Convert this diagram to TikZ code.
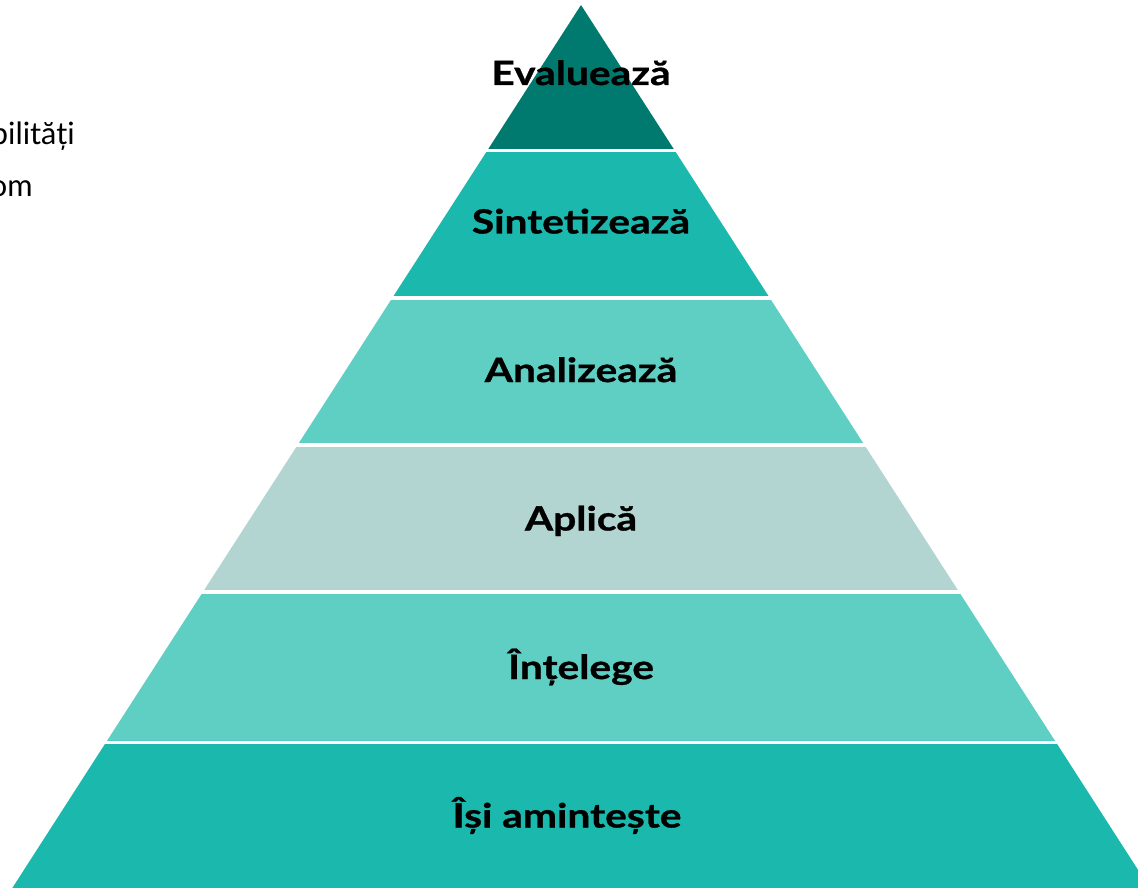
\documentclass[tikz,border=0pt]{standalone}
\usepackage{fontspec}
\setmainfont{Lato}
\newfontfamily\levelfont[FakeStretch=1.22, FakeBold=0.9]{Lato}
\definecolor{tealdark}{HTML}{007A6E}
\definecolor{tealmid}{HTML}{1AB8AD}
\definecolor{teallight}{HTML}{5FCEC3}
\definecolor{tealpale}{HTML}{B3D5D2}
\tikzset{
  level/.style={fill=#1, draw=none},
  gap/.style={draw=white, line width=0.07cm},
  label/.style={anchor=base, font=\levelfont\fontsize{19}{23}\selectfont\bfseries, text=black, inner sep=0pt},
  sidetext/.style={anchor=base east, font=\fontsize{17.5}{21}\selectfont, text=black, inner sep=0pt}
}
\begin{document}
\begin{tikzpicture}[x=0.02cm, y=-0.02cm]
\useasboundingbox (0,0) rectangle (1138,888);
\clip (0,0) rectangle (1138,888);

% pyramid levels, top to bottom
\fill[level=tealdark]  (581,5) -- (675.8,152.2) -- (486.2,152.2) -- cycle;
\fill[level=tealmid]   (486.2,152.2) -- (675.8,152.2) -- (770.6,299.3) -- (391.4,299.3) -- cycle;
\fill[level=teallight] (391.4,299.3) -- (770.6,299.3) -- (865.4,446.5) -- (296.6,446.5) -- cycle;
\fill[level=tealpale]  (296.6,446.5) -- (865.4,446.5) -- (960.2,593.7) -- (201.8,593.7) -- cycle;
\fill[level=teallight] (201.8,593.7) -- (960.2,593.7) -- (1055.0,740.8) -- (107.0,740.8) -- cycle;
\fill[level=tealmid]   (107.0,740.8) -- (1055.0,740.8) -- (1149.7,888) -- (12.3,888) -- cycle;

% white separators between levels
\foreach \yy in {150.7, 297.8, 445.0, 592.2, 742.3} {
  \draw[gap] (0,\yy) -- (1138,\yy);
}

% level labels
\node[label] (evalueaza)   at (581,85)    {Evaluează};
\node[label] (sintetizeaza) at (581,233.5) {Sintetizează};
\node[label] (analizeaza)  at (581,382)   {Analizează};
\node[label] (aplica)      at (581,530.5) {Aplică};
\node[label] (intelege)    at (581,679)   {Înțelege};
\node[label] (aminteste)   at (567,827.5) {Își amintește};

% side text running in from the left
\node[sidetext] (side1) at (75,145) {abilități};
\node[sidetext] (side2) at (33,197) {om};
\end{tikzpicture}
\end{document}
